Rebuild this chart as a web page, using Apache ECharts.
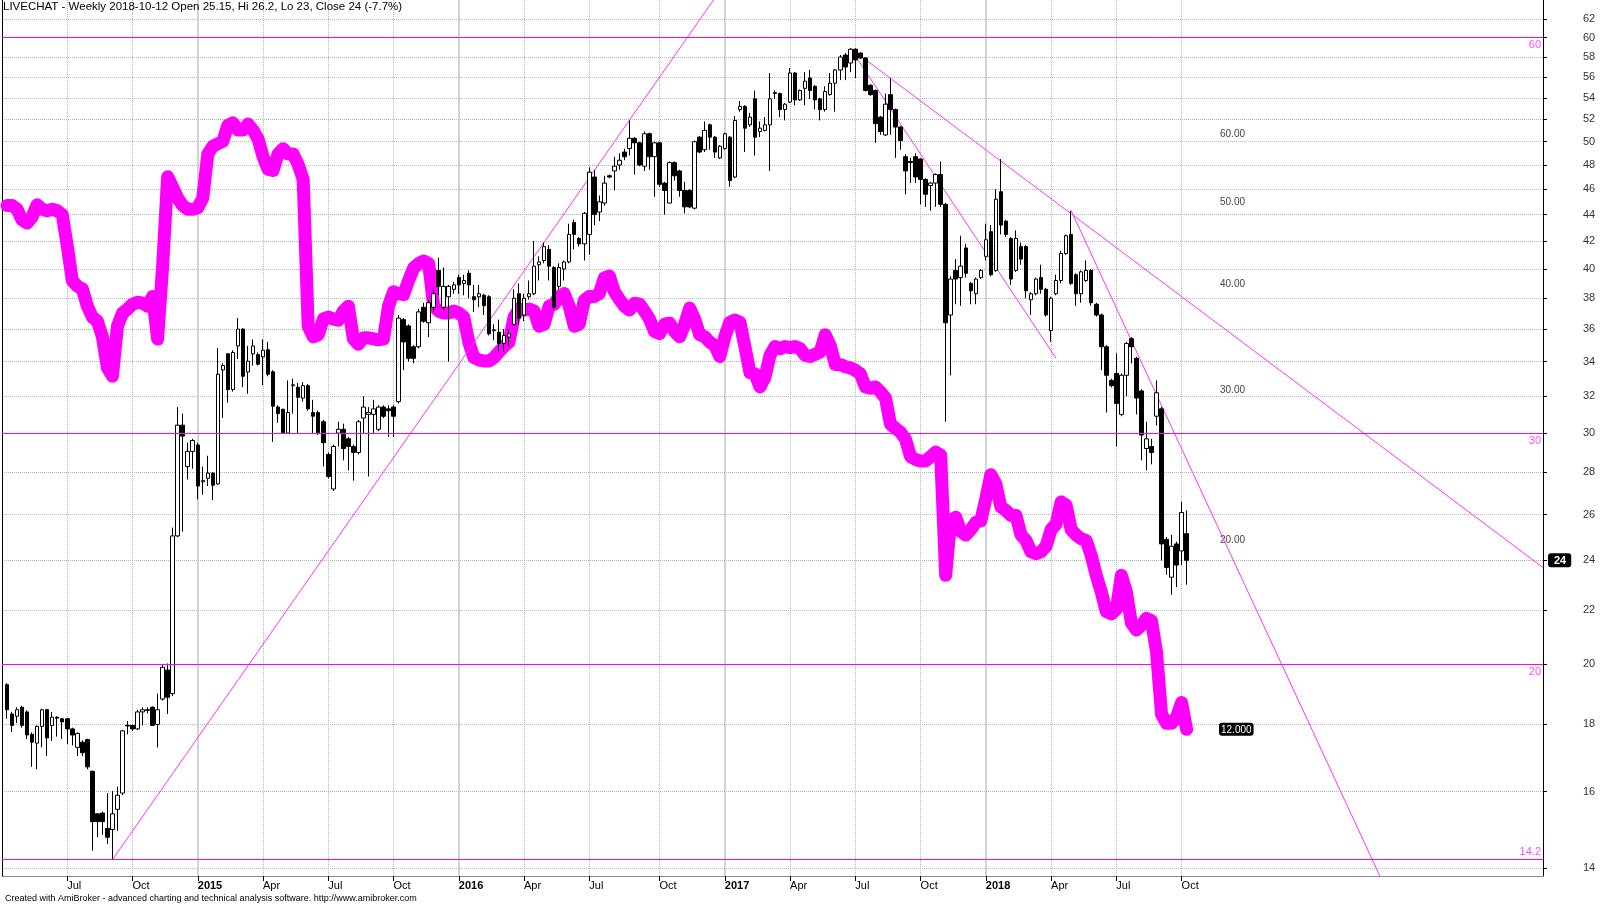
<!DOCTYPE html>
<html>
<head>
<meta charset="utf-8">
<title>LIVECHAT - Weekly</title>
<script src="https://cdn.jsdelivr.net/npm/echarts@6/dist/echarts.min.js"></script>
<style>
  html, body { margin: 0; padding: 0; background: #fff; }
  #chart { width: 1600px; height: 905px; }
</style>
</head>
<body>
<div id="chart"></div>
<script>
// weekly bars 2014-04-11 .. 2018-10-12 (category 0 = 2014-04-04 stays empty)
const opens = [
  19.3, 18.33, 18.26, 18.55, 18.4, 17.69, 17.42, 17.94, 18.47, 17.97,
  18.23, 18.18, 18.18, 17.86, 17.29, 17.45, 17.53, 16.58, 15.39, 15.41,
  15.0, 14.97, 15.51, 15.96, 17.97, 17.97, 17.86, 18.4, 18.47, 18.55,
  18.0, 18.82, 19.8, 19.0, 25.05, 30.42, 28.29, 29.05, 29.38, 27.54,
  27.71, 27.97, 27.44, 33.51, 34.47, 32.38, 34.95, 36.0, 33.39, 34.47,
  34.42, 34.29, 34.72, 33.4, 31.4, 31.28, 30.0, 32.6, 32.51, 31.9,
  32.6, 31.1, 31.1, 30.6, 28.9, 27.2, 30.0, 30.2, 29.7, 29.3,
  29.0, 30.8, 31.0, 31.0, 30.2, 31.4, 31.3, 31.4, 31.7, 36.6,
  36.2, 34.9, 34.9, 37.4, 36.4, 37.4, 39.9, 37.4, 38.1, 38.6,
  39.4, 39.0, 39.7, 38.1, 38.1, 38.2, 38.1, 35.9, 35.8, 35.1,
  35.5, 36.3, 38.3, 36.9, 38.1, 38.3, 40.3, 40.6, 41.4, 40.1,
  38.8, 40.0, 40.5, 43.4, 42.2, 41.8, 42.5, 47.0, 44.2, 44.9,
  47.1, 47.5, 48.0, 49.1, 49.4, 50.3, 49.9, 47.9, 50.7, 48.7,
  49.9, 46.5, 44.9, 48.2, 47.5, 45.9, 45.9, 44.5, 50.4, 49.3,
  51.5, 50.4, 48.6, 49.4, 50.4, 47.0, 52.9, 53.2, 51.5, 53.9,
  50.9, 51.0, 51.5, 54.4, 54.4, 52.9, 53.6, 56.4, 53.8, 54.9,
  55.9, 55.1, 53.9, 52.9, 54.3, 55.4, 56.7, 58.2, 57.4, 58.8,
  58.4, 57.9, 55.2, 54.7, 52.2, 50.6, 54.3, 52.9, 51.3, 48.7,
  48.3, 48.7, 48.5, 46.8, 46.3, 46.5, 47.2, 44.8, 36.9, 39.9,
  39.4, 41.5, 39.0, 38.3, 39.4, 40.9, 42.7, 39.9, 45.8, 43.5,
  42.2, 39.9, 41.6, 41.6, 37.9, 38.3, 39.4, 38.6, 35.9, 38.3,
  39.2, 41.1, 42.5, 39.6, 38.3, 39.2, 39.9, 37.6, 36.9, 34.9,
  32.9, 33.3, 31.0, 33.2, 35.4, 34.2, 32.3, 29.2, 29.3, 30.9,
  31.3, 24.9, 23.3, 24.7, 24.4, 25.15
];
const highs = [
  19.35, 18.4, 18.55, 18.6, 18.45, 17.75, 17.97, 18.5, 18.5, 18.4,
  18.26, 18.2, 18.2, 17.9, 17.75, 17.5, 17.55, 16.6, 15.4, 15.45,
  15.96, 16.02, 16.14, 17.83, 18.11, 18.0, 18.47, 18.55, 18.55, 18.58,
  19.0, 19.98, 20.03, 25.42, 31.4, 31.04, 29.5, 29.7, 29.5, 28.29,
  28.83, 28.0, 34.82, 33.9, 34.5, 34.69, 36.7, 36.05, 34.95, 35.35,
  34.55, 35.35, 35.2, 33.5, 31.5, 31.3, 32.9, 33.01, 32.76, 32.8,
  32.7, 31.8, 31.2, 30.7, 29.0, 29.4, 30.6, 30.5, 29.8, 29.4,
  30.7, 32.0, 31.4, 31.8, 31.5, 31.5, 31.5, 31.5, 36.9, 36.7,
  36.3, 35.0, 37.3, 37.7, 37.9, 38.6, 40.8, 40.1, 38.9, 39.1,
  39.6, 39.6, 39.9, 38.9, 38.9, 38.3, 38.2, 36.3, 36.6, 36.0,
  36.0, 38.6, 39.0, 38.3, 39.2, 42.0, 40.9, 41.9, 41.7, 40.2,
  40.4, 40.6, 43.3, 43.6, 42.3, 44.2, 47.8, 47.6, 45.5, 47.1,
  47.2, 48.7, 49.0, 49.4, 51.9, 50.4, 50.0, 50.9, 50.8, 50.0,
  50.0, 46.6, 48.3, 48.3, 47.6, 46.6, 46.0, 50.1, 50.5, 51.8,
  51.6, 50.5, 49.7, 50.8, 50.5, 52.3, 53.7, 53.3, 52.6, 54.7,
  51.8, 52.2, 56.4, 54.7, 54.5, 53.5, 56.9, 56.5, 54.8, 56.5,
  56.7, 55.2, 54.0, 55.1, 56.4, 56.8, 58.2, 58.4, 58.9, 58.9,
  58.5, 58.0, 55.3, 54.8, 52.3, 54.4, 55.9, 53.0, 51.4, 48.9,
  48.6, 49.0, 48.6, 46.9, 46.6, 47.3, 48.3, 44.9, 39.5, 40.7,
  42.4, 41.8, 39.1, 39.4, 40.0, 43.3, 43.2, 46.0, 48.5, 43.6,
  42.3, 42.8, 41.9, 41.7, 38.4, 39.4, 40.3, 38.7, 38.1, 39.6,
  41.3, 42.5, 44.3, 39.7, 39.9, 40.6, 40.0, 37.7, 37.0, 35.0,
  33.0, 34.5, 33.3, 35.2, 35.5, 34.3, 32.4, 30.6, 29.7, 32.9,
  31.4, 25.0, 25.1, 24.8, 26.6, 26.2
];
const lows = [
  18.18, 17.76, 18.04, 17.9, 17.55, 16.71, 16.64, 17.29, 17.03, 17.49,
  17.62, 17.55, 17.39, 17.35, 17.03, 17.03, 16.64, 14.43, 14.77, 14.83,
  14.6, 14.21, 14.94, 15.9, 17.69, 17.8, 17.83, 17.97, 18.35, 17.95,
  17.29, 18.77, 18.33, 18.92, 25.0, 25.24, 27.65, 28.18, 26.71, 26.92,
  27.34, 26.67, 27.4, 30.81, 31.65, 32.26, 34.16, 32.51, 32.14, 33.77,
  33.77, 32.63, 33.14, 29.54, 30.54, 29.95, 29.95, 31.04, 29.97, 31.7,
  31.2, 30.0, 29.9, 28.3, 27.7, 27.1, 29.3, 28.6, 28.1, 27.6,
  28.9, 30.0, 27.8, 30.0, 30.1, 30.8, 29.8, 29.8, 31.6, 33.5,
  34.0, 33.9, 34.8, 36.4, 35.5, 37.1, 38.2, 37.2, 34.0, 38.3,
  38.3, 38.2, 38.0, 37.1, 37.4, 36.9, 35.6, 35.3, 34.6, 34.6,
  34.9, 36.2, 36.3, 36.5, 37.9, 38.2, 39.2, 40.4, 39.2, 37.3,
  38.6, 39.2, 40.4, 41.4, 41.6, 40.6, 41.0, 43.2, 43.5, 44.7,
  46.9, 45.9, 47.6, 48.4, 48.8, 47.2, 47.9, 47.5, 47.6, 45.4,
  46.2, 44.0, 44.9, 46.7, 45.4, 44.1, 44.5, 44.4, 49.0, 49.1,
  49.3, 48.6, 48.5, 49.3, 46.2, 46.9, 52.7, 49.1, 51.3, 48.8,
  50.4, 50.9, 47.5, 53.9, 52.2, 51.9, 53.5, 53.3, 53.7, 53.3,
  53.9, 52.9, 51.9, 52.7, 54.2, 52.7, 55.7, 55.7, 56.5, 55.9,
  57.8, 54.6, 54.2, 49.9, 50.6, 50.5, 50.6, 48.6, 49.3, 45.6,
  46.5, 46.5, 44.8, 44.6, 44.3, 44.6, 44.6, 30.6, 33.2, 37.6,
  37.5, 39.4, 37.6, 37.6, 39.3, 40.6, 39.5, 39.8, 42.5, 42.3,
  38.9, 39.8, 40.3, 38.0, 36.9, 38.2, 38.3, 36.8, 35.2, 38.2,
  39.0, 41.0, 38.9, 37.5, 37.7, 39.1, 37.5, 36.8, 33.5, 31.1,
  32.5, 29.3, 30.9, 32.0, 33.9, 31.0, 28.6, 28.1, 28.4, 30.4,
  24.0, 23.4, 22.6, 22.9, 23.8, 23
];
const closes = [
  18.47, 17.97, 18.47, 17.97, 17.67, 17.45, 17.94, 18.47, 17.58, 18.23,
  18.2, 18.08, 17.86, 17.67, 17.72, 17.13, 16.71, 15.18, 15.18, 15.18,
  14.77, 15.39, 15.9, 17.8, 17.95, 17.86, 18.4, 18.47, 18.45, 17.97,
  18.47, 19.9, 18.88, 25.05, 30.42, 29.84, 29.05, 29.61, 27.34, 27.6,
  27.97, 27.38, 33.26, 33.77, 32.38, 34.55, 36.0, 33.14, 34.03, 34.95,
  33.85, 34.69, 33.26, 31.45, 31.04, 30.0, 31.1, 32.65, 31.94, 32.6,
  31.3, 30.9, 30.0, 29.5, 27.8, 29.3, 30.2, 29.2, 29.3, 29.0,
  30.6, 31.4, 31.1, 31.3, 31.4, 30.9, 31.2, 30.9, 36.7, 35.2,
  34.2, 34.2, 37.1, 36.5, 37.7, 38.3, 38.8, 38.8, 38.8, 38.9,
  38.9, 39.2, 38.9, 37.9, 38.3, 37.5, 35.7, 35.95, 35.1, 35.6,
  35.7, 38.0, 36.7, 38.0, 38.3, 40.2, 40.5, 41.6, 40.2, 37.4,
  40.1, 40.5, 42.5, 42.5, 41.8, 44.1, 47.4, 44.0, 45.0, 46.5,
  47.0, 47.9, 48.4, 48.7, 50.3, 49.9, 48.0, 50.7, 48.7, 49.9,
  46.4, 45.9, 48.2, 47.1, 45.9, 44.6, 44.6, 50.0, 49.1, 51.0,
  50.4, 49.1, 49.6, 50.7, 46.7, 51.9, 53.2, 51.2, 52.2, 50.4,
  51.2, 51.5, 53.9, 54.5, 52.9, 53.4, 56.4, 53.8, 54.7, 55.6,
  54.7, 53.8, 52.9, 54.6, 55.4, 56.7, 58.0, 57.0, 58.8, 57.7,
  57.9, 54.7, 54.3, 51.6, 50.9, 53.4, 52.9, 51.3, 50.1, 47.5,
  48.2, 47.0, 46.8, 45.6, 46.5, 47.2, 44.8, 36.4, 39.3, 39.3,
  40.2, 39.7, 38.5, 39.3, 39.9, 42.1, 39.6, 45.2, 43.2, 42.5,
  39.3, 42.2, 40.7, 38.5, 38.3, 39.3, 38.6, 36.9, 38.0, 39.2,
  41.1, 42.4, 39.0, 38.3, 39.8, 39.9, 37.7, 36.9, 34.9, 33.2,
  32.6, 31.6, 33.2, 35.1, 34.9, 31.9, 29.9, 29.7, 29.0, 32.2,
  24.7, 23.7, 24.6, 23.8, 26.1, 24
];
// thick magenta line, read on the inner scale (60.00 ... 20.00, last 12.000)
const relStrength = [
  49.5, 49.5, 49.0, 47.6, 47.2, 48.0, 49.6, 49.0, 48.8, 49.0,
  48.8, 48.3, 44.4, 40.4, 39.8, 39.5, 37.7, 36.6, 36.2, 34.7,
  31.9, 31.2, 35.7, 37.0, 37.4, 37.9, 38.1, 38.0, 37.7, 38.7,
  34.5, 42.0, 53.5, 52.0, 50.5, 49.5, 49.0, 49.0, 49.2, 50.5,
  56.9, 58.1, 58.5, 58.9, 61.5, 61.9, 60.7, 60.7, 61.7, 60.7,
  59.3, 56.5, 54.6, 54.4, 56.9, 57.7, 56.9, 56.9, 55.3, 53.1,
  35.7, 34.7, 34.9, 36.4, 36.6, 36.4, 36.3, 37.2, 37.7, 34.5,
  34.0, 34.6, 34.6, 34.5, 34.4, 34.5, 37.7, 39.2, 39.0, 38.9,
  40.4, 41.8, 42.3, 42.6, 42.3, 37.7, 37.2, 37.0, 37.0, 37.2,
  37.0, 36.6, 34.2, 32.8, 32.6, 32.5, 32.5, 32.8, 33.3, 33.8,
  34.2, 36.6, 37.4, 37.3, 37.4, 37.2, 35.7, 35.9, 37.7, 37.9,
  38.7, 39.0, 37.7, 35.7, 35.9, 38.3, 38.7, 38.7, 39.0, 40.7,
  40.9, 39.2, 38.4, 37.7, 37.3, 38.0, 37.9, 37.2, 36.4, 35.2,
  35.0, 35.9, 36.0, 35.2, 34.7, 35.9, 37.5, 36.4, 34.9, 34.7,
  34.2, 33.9, 32.9, 34.7, 36.1, 36.3, 36.1, 33.8, 31.5, 31.4,
  30.3, 31.1, 33.0, 33.8, 33.6, 33.8, 33.7, 33.8, 33.6, 33.0,
  32.9, 33.1, 33.3, 34.9, 33.9, 32.2, 32.2, 32.0, 31.9, 31.7,
  31.4, 30.3, 30.2, 30.3, 29.9, 29.4, 27.4, 27.1, 26.8, 26.3,
  25.1, 24.9, 24.8, 24.8, 25.1, 25.4, 25.2, 18.2, 21.1, 21.3,
  20.5, 20.3, 20.6, 21.0, 21.1, 22.4, 23.9, 23.3, 21.9, 21.7,
  21.4, 21.4, 20.3, 20.0, 19.4, 19.3, 19.4, 19.7, 20.6, 20.9,
  22.2, 22.0, 20.6, 20.3, 20.1, 20.0, 19.2, 18.2, 17.4, 16.5,
  16.4, 16.6, 18.2, 17.4, 16.0, 15.7, 15.9, 16.2, 16.1, 14.8,
  12.5, 12.2, 12.2, 12.4, 12.9, 12.0
];

const priceTicks = [14, 16, 18, 20, 22, 24, 26, 28, 30, 32, 34, 36, 38, 40, 42, 44, 46, 48, 50, 52, 54, 56, 58, 60, 62];
const rsTicks = [20, 30, 40, 50, 60];
const monthLabels = { 4: 'Apr', 7: 'Jul', 10: 'Oct' };
const levelLines = [60, 30, 20, 14.2];
// trend lines: [week index, price] pairs
const trendLines = [
  [[22, 14.2], [142, 64.3]],
  [[169, 58.9], [307, 23.7]],
  [[169, 58.9], [210, 34.2]],
  [[213, 44.3], [275, 13.67]]
];
const lastPrice = 24;
const lastRS = 12;

// weekly category axis (Fridays), with blank weeks on the right
const weekCount = 308;
const dates = [];
for (let i = 0; i < weekCount; i++) {
  dates.push(new Date(Date.UTC(2014, 3, 4) + i * 7 * 864e5).toISOString().slice(0, 10));
}
const lastBar = closes.length;
const month = i => +dates[i].slice(5, 7);
const newQuarter = i => i > 0 && i <= lastBar && month(i) !== month(i - 1) && month(i) % 3 === 1;
const newYear = i => newQuarter(i) && month(i) === 1;

const candles = [['-', '-', '-', '-']].concat(opens.map((o, k) => [o, closes[k], lows[k], highs[k]]));
const rsLine = ['-'].concat(relStrength);

const font = 'Arial, "Liberation Sans", sans-serif';
const chart = echarts.init(document.getElementById('chart'));

const option = {
  animation: false,
  backgroundColor: '#fff',
  textStyle: { fontFamily: font },
  title: [
    {
      text: 'LIVECHAT - Weekly 2018-10-12 Open 25.15, Hi 26.2, Lo 23, Close 24 (-7.7%)',
      left: 3, top: 1, padding: 0,
      textStyle: { fontSize: 11.5, fontWeight: 'normal', color: '#000', fontFamily: font }
    },
    {
      text: 'Created with AmiBroker - advanced charting and technical analysis software. http://www.amibroker.com',
      left: 5, bottom: 2, padding: 0,
      textStyle: { fontSize: 9, fontWeight: 'normal', color: '#000', fontFamily: font }
    }
  ],
  grid: { left: 2, right: 57, top: 0, bottom: 29, outerBoundsMode: 'none' },
  xAxis: [
    {
      type: 'category', data: dates, boundaryGap: false, position: 'bottom',
      axisLine: { lineStyle: { color: '#8c8c8c' } },
      axisTick: { interval: i => newQuarter(i), length: 5, lineStyle: { color: '#000' } },
      axisLabel: {
        interval: i => newQuarter(i),
        formatter: (v, i) => newYear(i) ? '{y|' + v.slice(0, 4) + '}' : monthLabels[+v.slice(5, 7)],
        align: 'left', margin: 4, fontSize: 11, color: '#000', fontFamily: font,
        rich: { y: { fontWeight: 'bold', fontSize: 11, color: '#000', fontFamily: font } }
      },
      splitLine: {
        show: true, interval: i => newQuarter(i) && !newYear(i),
        lineStyle: { type: 'dotted', color: '#b4b4b4' }
      }
    },
    {
      type: 'category', data: dates, boundaryGap: false, position: 'bottom',
      axisLine: { show: false }, axisTick: { show: false }, axisLabel: { show: false },
      splitLine: { show: true, interval: i => newYear(i), lineStyle: { color: '#c4c4c4', width: 1.5 } }
    }
  ],
  yAxis: [
    {
      type: 'log', position: 'right', min: 13.8, max: 64.1,
      axisLine: { show: true, lineStyle: { color: '#000' } },
      axisTick: { show: true, length: 4, customValues: priceTicks, lineStyle: { color: '#000' } },
      axisLabel: { customValues: priceTicks, margin: 40, fontSize: 11, color: '#333', fontFamily: font },
      splitLine: { show: true, lineStyle: { type: 'dotted', color: '#b4b4b4' } },
      axisPointer: {
        show: true, type: 'line', status: 'show', value: lastPrice, triggerTooltip: false,
        lineStyle: { color: 'rgba(0,0,0,0)' },
        label: {
          show: true, backgroundColor: '#000', color: '#fff', fontSize: 11, fontWeight: 'bold',
          padding: [2, 5, 1, 6], margin: 5, formatter: p => String(p.value)
        }
      }
    },
    {
      type: 'log', position: 'right', offset: -327, min: 8.07, max: 86.3,
      axisLine: { show: false }, axisTick: { show: false }, splitLine: { show: false },
      axisLabel: {
        customValues: rsTicks, margin: 4, fontSize: 10, color: '#444', fontFamily: font,
        formatter: v => Number(v).toFixed(2)
      },
      axisPointer: {
        show: true, type: 'line', status: 'show', value: lastRS, triggerTooltip: false,
        lineStyle: { color: 'rgba(0,0,0,0)' },
        label: {
          show: true, backgroundColor: '#000', color: '#fff', fontSize: 10,
          padding: [2, 2, 1, 2], margin: 3, formatter: p => Number(p.value).toFixed(3)
        }
      }
    },
    {
      type: 'value', position: 'left',
      axisLine: { show: true, onZero: false, lineStyle: { color: '#000' } },
      axisTick: { show: false }, axisLabel: { show: false }, splitLine: { show: false }
    }
  ],
  series: [
    {
      name: 'RS', type: 'line', xAxisIndex: 0, yAxisIndex: 1, data: rsLine,
      symbol: 'none', silent: true, z: 1,
      lineStyle: { color: '#ff00ff', width: 13, cap: 'round', join: 'round' }
    },
    {
      name: 'LIVECHAT', type: 'candlestick', xAxisIndex: 0, yAxisIndex: 0, data: candles,
      barWidth: 4, z: 3, silent: true,
      itemStyle: { color: '#fff', color0: '#000', borderColor: '#000', borderColor0: '#000', borderWidth: 1 },
      markLine: {
        symbol: 'none', silent: true, animation: false,
        lineStyle: { color: '#ff00ff', width: 1, type: 'solid' },
        label: { color: '#ff4dff', fontSize: 11, fontFamily: font, distance: 2, formatter: p => String(p.value) },
        data: levelLines.map(v => ({
          yAxis: v,
          label: { position: v < 15 ? 'insideEndTop' : 'insideEndBottom' }
        }))
      }
    }
  ].concat(trendLines.map(t => ({
    type: 'line', xAxisIndex: 0, yAxisIndex: 0, data: t, symbol: 'none', silent: true, z: 2,
    lineStyle: { color: '#ff33ff', width: 1 }
  })))
};

chart.setOption(option);
</script>
</body>
</html>
